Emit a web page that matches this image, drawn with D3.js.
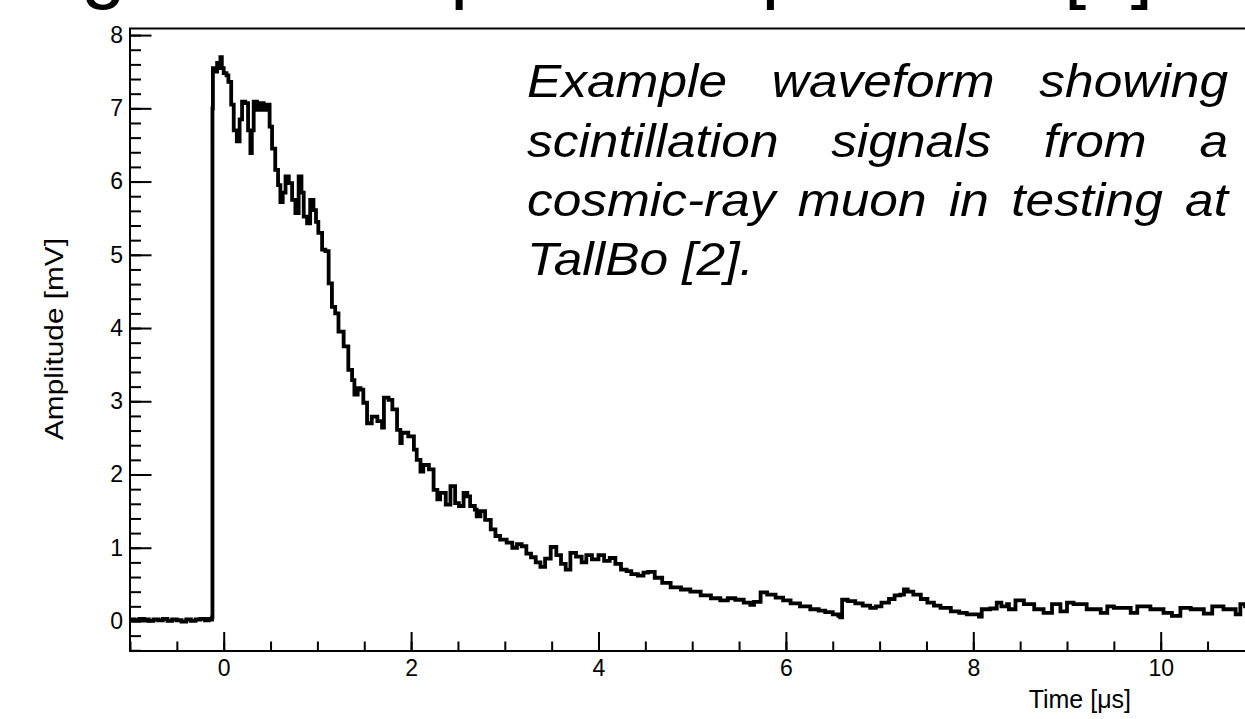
<!DOCTYPE html>
<html>
<head>
<meta charset="utf-8">
<script src="https://cdn.jsdelivr.net/npm/d3@7"></script>
<style>
  body { margin: 0; background: #fff; }
  svg { display: block; }
  text { font-family: "Liberation Sans", Arial, Helvetica, sans-serif; fill: #000; }
</style>
</head>
<body>
<script>
// waveform samples (time in us, amplitude in mV)
var timeUs = [-1.00, -0.95, -0.90, -0.85, -0.80, -0.75, -0.70, -0.65, -0.60, -0.55,
  -0.50, -0.45, -0.40, -0.35, -0.30, -0.25, -0.20, -0.16, -0.13, -0.125,
  -0.12, -0.115, -0.105, -0.09, -0.07, -0.05, -0.035, -0.02, 0.00, 0.03,
  0.05, 0.08, 0.107, 0.14, 0.17, 0.196, 0.23, 0.26, 0.285, 0.30,
  0.32, 0.356, 0.39, 0.427, 0.46, 0.49, 0.516, 0.55, 0.58, 0.605,
  0.63, 0.66, 0.695, 0.73, 0.765, 0.80, 0.83, 0.854, 0.89, 0.923,
  0.958, 0.985, 1.01, 1.05, 1.085, 1.12, 1.155, 1.19, 1.225, 1.28,
  1.33, 1.37, 1.395, 1.43, 1.46, 1.49, 1.53, 1.58, 1.64, 1.69,
  1.71, 1.76, 1.80, 1.85, 1.885, 1.90, 1.97, 2.03, 2.06, 2.10,
  2.13, 2.19, 2.24, 2.28, 2.31, 2.37, 2.42, 2.47, 2.51, 2.56,
  2.60, 2.63, 2.68, 2.70, 2.74, 2.79, 2.85, 2.90, 2.95, 3.02,
  3.08, 3.13, 3.18, 3.23, 3.28, 3.33, 3.38, 3.43, 3.49, 3.55,
  3.60, 3.65, 3.70, 3.76, 3.82, 3.87, 3.93, 4.00, 4.06, 4.12,
  4.18, 4.24, 4.30, 4.35, 4.42, 4.48, 4.53, 4.60, 4.68, 4.77,
  4.88, 4.98, 5.09, 5.20, 5.30, 5.38, 5.46, 5.55, 5.62, 5.66,
  5.73, 5.80, 5.89, 5.97, 6.05, 6.15, 6.26, 6.35, 6.42, 6.50,
  6.56, 6.58, 6.60, 6.66, 6.74, 6.82, 6.90, 6.96, 7.02, 7.10,
  7.16, 7.22, 7.26, 7.30, 7.36, 7.44, 7.51, 7.58, 7.65, 7.76,
  7.85, 7.93, 8.06, 8.09, 8.18, 8.25, 8.30, 8.36, 8.38, 8.45,
  8.54, 8.65, 8.75, 8.84, 8.93, 9.00, 9.07, 9.21, 9.36, 9.43,
  9.50, 9.68, 9.75, 9.89, 10.03, 10.12, 10.21, 10.32, 10.46, 10.55,
  10.67, 10.80, 10.85, 10.90, 10.95];
var amplitudeMv = [0.02, 0.01, 0.03, 0.02, 0.00, 0.02, 0.01, 0.03, 0.00, 0.02,
  0.01, -0.01, 0.02, 0.00, 0.02, 0.03, 0.01, 0.03, 0.02, 0.05,
  7.00, 7.55, 7.55, 7.50, 7.62, 7.55, 7.70, 7.55, 7.48, 7.45,
  7.36, 7.05, 6.70, 6.55, 6.85, 7.09, 7.07, 6.70, 6.39, 6.70,
  7.09, 6.98, 7.07, 6.98, 7.05, 6.75, 6.45, 6.16, 5.95, 5.72,
  5.85, 6.07, 5.98, 5.75, 5.57, 6.07, 5.85, 5.52, 5.43, 5.75,
  5.61, 5.45, 5.30, 5.07, 5.05, 4.61, 4.29, 4.20, 3.95, 3.75,
  3.43, 3.29, 3.09, 3.18, 3.16, 2.98, 2.70, 2.79, 2.73, 2.64,
  3.05, 3.02, 2.89, 2.61, 2.43, 2.57, 2.52, 2.34, 2.20, 2.04,
  2.13, 2.07, 1.79, 1.66, 1.75, 1.59, 1.84, 1.61, 1.57, 1.75,
  1.70, 1.57, 1.52, 1.43, 1.50, 1.38, 1.25, 1.16, 1.11, 1.07,
  1.00, 1.05, 1.02, 0.92, 0.87, 0.80, 0.74, 0.85, 1.01, 0.90,
  0.78, 0.70, 0.93, 0.88, 0.80, 0.90, 0.84, 0.90, 0.82, 0.86,
  0.78, 0.70, 0.68, 0.64, 0.62, 0.66, 0.67, 0.59, 0.52, 0.46,
  0.43, 0.40, 0.35, 0.31, 0.28, 0.31, 0.29, 0.25, 0.22, 0.26,
  0.39, 0.36, 0.32, 0.28, 0.24, 0.20, 0.16, 0.14, 0.12, 0.09,
  0.07, 0.05, 0.29, 0.27, 0.24, 0.21, 0.18, 0.20, 0.25, 0.30,
  0.35, 0.36, 0.43, 0.40, 0.36, 0.30, 0.25, 0.21, 0.18, 0.13,
  0.11, 0.09, 0.06, 0.16, 0.17, 0.25, 0.20, 0.23, 0.16, 0.28,
  0.23, 0.16, 0.11, 0.23, 0.13, 0.25, 0.23, 0.16, 0.11, 0.20,
  0.18, 0.11, 0.20, 0.16, 0.11, 0.07, 0.18, 0.16, 0.10, 0.20,
  0.16, 0.09, 0.23, 0.20, 0.18];

var xMajor = [0, 2, 4, 6, 8, 10];
var xMinor = d3.range(-1, 11.01, 0.5);
var yMajor = [0, 1, 2, 3, 4, 5, 6, 7, 8];
var yMinor = d3.range(-0.4, 8.09, 0.2);

var noteLines = ["Example waveform showing",
                 "scintillation signals from a",
                 "cosmic-ray muon in testing at",
                 "TallBo [2]."];
var slideTitle = "Signal example from paddles [2]";

var W = 1245, H = 719;
var frameL = 130, frameT = 28.5, frameB = 651, frameR = 1254.4;

var svg = d3.select("body").append("svg")
  .attr("width", W)
  .attr("height", H);

// slide title, mostly above the visible area
svg.append("text")
  .attr("x", 10)
  .attr("y", -7)
  .style("font-size", "80px")
  .text(slideTitle);

var x = d3.scaleLinear().domain([-1, 11]).range([frameL, frameR]);
var y = d3.scaleLinear().domain([-0.41, 8.09]).range([frameB, frameT]);

svg.append("clipPath").attr("id", "plotclip")
  .append("rect")
  .attr("x", frameL).attr("y", frameT)
  .attr("width", frameR - frameL).attr("height", frameB - frameT);

// the waveform, drawn as a histogram-like staircase
var line = d3.line()
  .curve(d3.curveStepAfter)
  .x(function(d, i) { return x(timeUs[i]); })
  .y(function(d, i) { return y(amplitudeMv[i]); });

svg.append("path")
  .attr("clip-path", "url(#plotclip)")
  .attr("d", line(timeUs))
  .attr("fill", "none")
  .attr("stroke", "#000")
  .attr("stroke-width", 3.8)
  .attr("stroke-linejoin", "miter");

// axes, ticks pointing inward like ROOT
var xAxisMinor = d3.axisBottom(x).tickValues(xMinor).tickFormat("").tickSize(-9.5).tickSizeOuter(0);
var xAxisMajor = d3.axisBottom(x).tickValues(xMajor).tickSize(-19).tickSizeOuter(0).tickPadding(9);
var yAxisMinor = d3.axisLeft(y).tickValues(yMinor).tickFormat("").tickSize(-11).tickSizeOuter(0);
var yAxisMajor = d3.axisLeft(y).tickValues(yMajor).tickSize(-21.5).tickSizeOuter(0).tickPadding(7);

[xAxisMinor, xAxisMajor].forEach(function(ax) {
  svg.append("g").attr("transform", "translate(0," + frameB + ")").call(ax);
});
[yAxisMinor, yAxisMajor].forEach(function(ax) {
  svg.append("g").attr("transform", "translate(" + frameL + ",0)").call(ax);
});
svg.selectAll(".domain").remove();
svg.selectAll(".tick line").attr("stroke", "#000").attr("stroke-width", 2);
svg.selectAll(".tick text")
  .attr("font-family", "'Liberation Sans', Arial, sans-serif")
  .style("font-size", "23px")
  .attr("fill", "#000");

// frame
svg.append("rect")
  .attr("x", frameL).attr("y", frameT)
  .attr("width", frameR - frameL).attr("height", frameB - frameT)
  .attr("fill", "none")
  .attr("stroke", "#000")
  .attr("stroke-width", 2);

// axis titles
svg.append("text")
  .attr("transform", "translate(63,339) rotate(-90)")
  .attr("text-anchor", "middle")
  .attr("textLength", 202)
  .attr("lengthAdjust", "spacingAndGlyphs")
  .style("font-size", "25px")
  .text("Amplitude [mV]");

svg.append("text")
  .attr("x", 1131)
  .attr("y", 708)
  .attr("text-anchor", "end")
  .style("font-size", "25px")
  .text("Time [\u03bcs]");

// justified italic note
var noteLeft = 527, noteRight = 1228, stretch = 1.13;
noteLines.forEach(function(str, li) {
  var words = str.split(" ");
  var baseY = 97.3 + li * 59.3;
  var els = words.map(function(w) {
    return svg.append("text")
      .attr("y", baseY)
      .style("font-size", "45.5px")
      .style("font-style", "italic")
      .text(w);
  });
  var widths = els.map(function(el) { return el.node().getComputedTextLength() * stretch; });
  var total = d3.sum(widths);
  var gap;
  if (li < noteLines.length - 1) {
    gap = (noteRight - noteLeft - total) / (words.length - 1);
  } else {
    gap = 0.278 * 45.5 * stretch;
  }
  var cx = noteLeft;
  els.forEach(function(el, i) {
    el.attr("x", cx)
      .attr("textLength", widths[i])
      .attr("lengthAdjust", "spacingAndGlyphs");
    cx += widths[i] + gap;
  });
});
</script>
</body>
</html>
